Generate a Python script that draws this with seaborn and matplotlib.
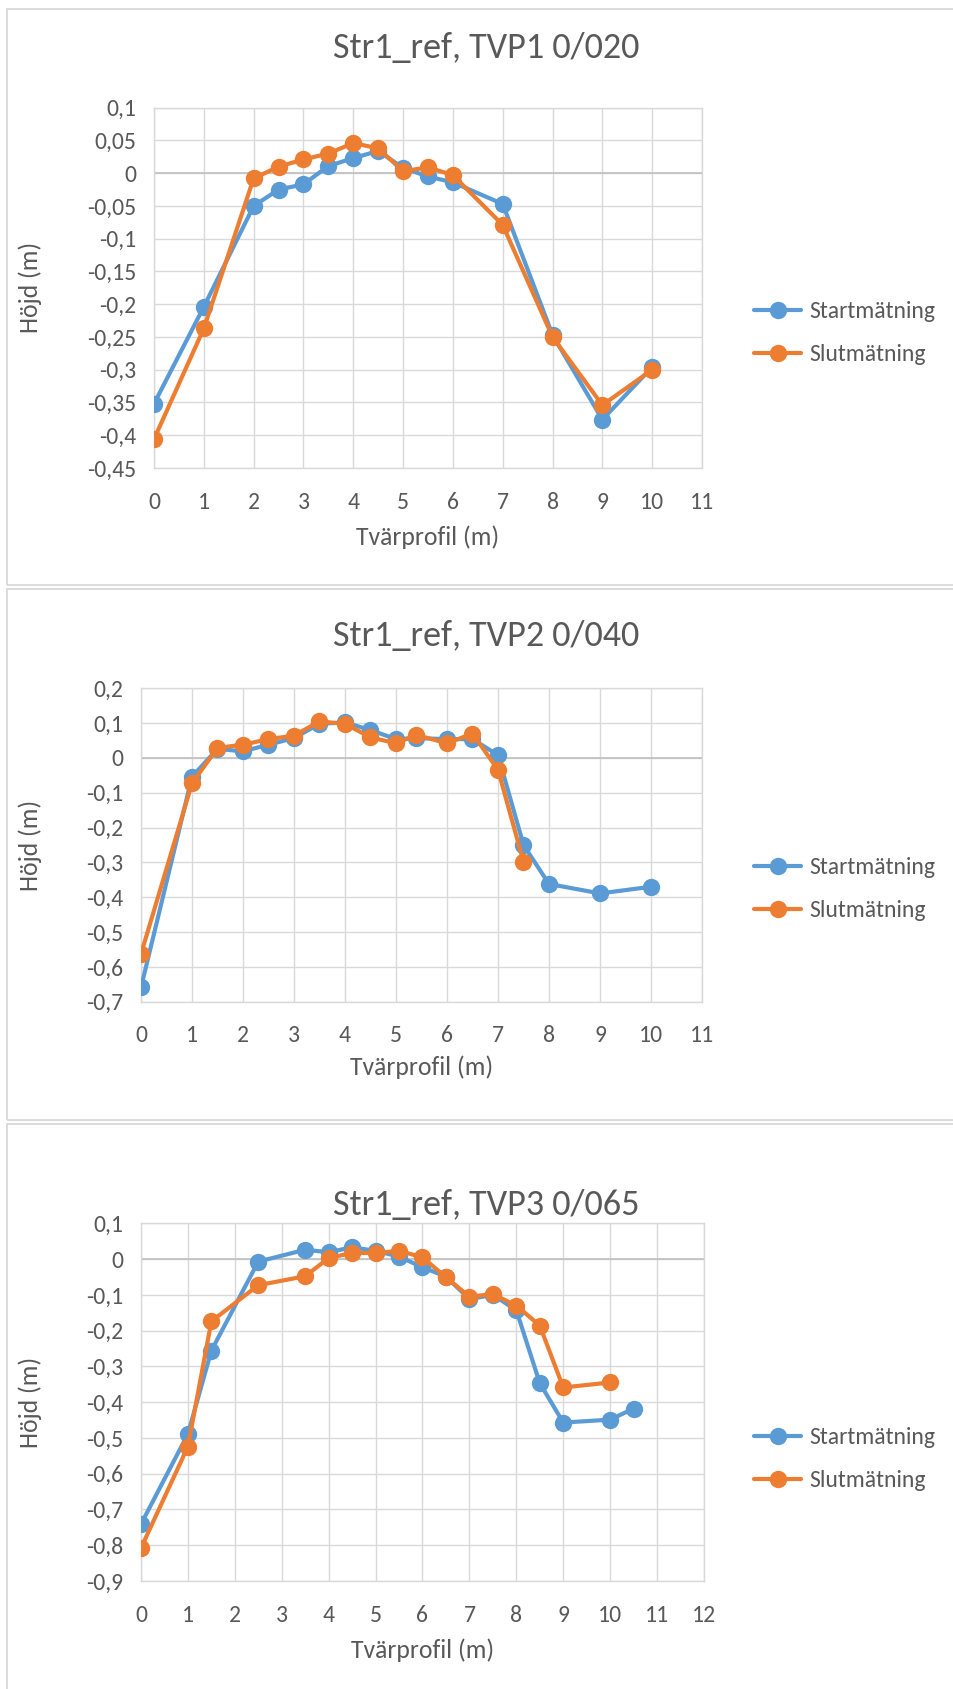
import matplotlib
matplotlib.use("Agg")
import matplotlib.pyplot as plt
from matplotlib import font_manager
from matplotlib.lines import Line2D
from matplotlib.patches import Rectangle
import pandas as pd
import seaborn as sns

# ---- data -------------------------------------------------------------
series_names = ["Startmätning", "Slutmätning"]
series_colors = ["#5B9BD5", "#ED7D31"]

titles = ["Str1_ref, TVP1 0/020", "Str1_ref, TVP2 0/040", "Str1_ref, TVP3 0/065"]
x_label = "Tvärprofil (m)"
y_label = "Höjd (m)"

tvp1_start_x = [0, 1, 2, 2.5, 3, 3.5, 4, 4.5, 5, 5.5, 6, 7, 8, 9, 10]
tvp1_start_y = [-0.352, -0.204, -0.050, -0.025, -0.017, 0.011, 0.023, 0.034,
                0.008, -0.005, -0.014, -0.047, -0.247, -0.376, -0.296]
tvp1_slut_x = [0, 1, 2, 2.5, 3, 3.5, 4, 4.5, 5, 5.5, 6, 7, 8, 9, 10]
tvp1_slut_y = [-0.406, -0.237, -0.008, 0.010, 0.021, 0.030, 0.046, 0.038,
               0.003, 0.009, -0.003, -0.079, -0.250, -0.354, -0.300]

tvp2_start_x = [0, 1, 1.5, 2, 2.5, 3, 3.5, 4, 4.5, 5, 5.4, 6, 6.5, 7, 7.5, 8, 9, 10]
tvp2_start_y = [-0.659, -0.054, 0.026, 0.019, 0.038, 0.057, 0.098, 0.102, 0.080,
                0.054, 0.057, 0.054, 0.054, 0.008, -0.250, -0.362, -0.389, -0.370]
tvp2_slut_x = [0, 1, 1.5, 2, 2.5, 3, 3.5, 4, 4.5, 5, 5.4, 6, 6.5, 7, 7.5]
tvp2_slut_y = [-0.563, -0.073, 0.029, 0.038, 0.054, 0.064, 0.105, 0.098, 0.059,
               0.042, 0.066, 0.042, 0.070, -0.034, -0.298]

tvp3_start_x = [0, 1, 1.5, 2.5, 3.5, 4, 4.5, 5, 5.5, 6, 6.5, 7, 7.5, 8, 8.5, 9, 10, 10.5]
tvp3_start_y = [-0.741, -0.489, -0.256, -0.007, 0.026, 0.019, 0.033, 0.023, 0.007,
                -0.023, -0.049, -0.112, -0.100, -0.143, -0.347, -0.457, -0.449, -0.418]
tvp3_slut_x = [0, 1, 1.5, 2.5, 3.5, 4, 4.5, 5, 5.5, 6, 6.5, 7, 7.5, 8, 8.5, 9, 10]
tvp3_slut_y = [-0.808, -0.524, -0.174, -0.073, -0.048, 0.003, 0.017, 0.017, 0.023,
               0.005, -0.051, -0.105, -0.098, -0.130, -0.186, -0.359, -0.345]

tvp1_xticks = [0, 1, 2, 3, 4, 5, 6, 7, 8, 9, 10, 11]
tvp2_xticks = [0, 1, 2, 3, 4, 5, 6, 7, 8, 9, 10, 11]
tvp3_xticks = [0, 1, 2, 3, 4, 5, 6, 7, 8, 9, 10, 11, 12]

tvp1_yticks = [0.1, 0.05, 0, -0.05, -0.1, -0.15, -0.2, -0.25, -0.3, -0.35, -0.4, -0.45]
tvp1_ylabels = ["0,1", "0,05", "0", "-0,05", "-0,1", "-0,15", "-0,2", "-0,25",
                "-0,3", "-0,35", "-0,4", "-0,45"]
tvp2_yticks = [0.2, 0.1, 0, -0.1, -0.2, -0.3, -0.4, -0.5, -0.6, -0.7]
tvp2_ylabels = ["0,2", "0,1", "0", "-0,1", "-0,2", "-0,3", "-0,4", "-0,5", "-0,6", "-0,7"]
tvp3_yticks = [0.1, 0, -0.1, -0.2, -0.3, -0.4, -0.5, -0.6, -0.7, -0.8, -0.9]
tvp3_ylabels = ["0,1", "0", "-0,1", "-0,2", "-0,3", "-0,4", "-0,5", "-0,6", "-0,7",
                "-0,8", "-0,9"]

# ---- style ------------------------------------------------------------
sns.set_theme(style="white")
available = {f.name for f in font_manager.fontManager.ttflist}
base_font = "DejaVu Sans"
for cand in ["Carlito", "Calibri", "Lato", "Open Sans"]:
    if cand in available:
        base_font = cand
        break
plt.rcParams["font.family"] = [base_font, "DejaVu Sans"]

TEXT = "#595959"
GRID = "#D9D9D9"
ZERO = "#BFBFBF"
FRAME = "#D9D9D9"

TICK_FS = 17
LABEL_FS = 18.5
TITLE_FS = 26
LEGEND_FS = 17
MARKER = 12.5
LINE_W = 3.0

W, H = 954, 1689
fig = plt.figure(figsize=(W / 100, H / 100), dpi=100)
fig.patch.set_facecolor("white")


def fig_rect(left, top, right, bottom):
    return [left / W, 1 - bottom / H, (right - left) / W, (bottom - top) / H]


# chart frames (left, top, right, bottom in pixels)
frames = [(7, 9, 962, 585), (7, 589, 962, 1120), (7, 1124, 962, 1700)]
for l, t, r, b in frames:
    fig.patches.append(Rectangle((l / W, 1 - b / H), (r - l) / W, (b - t) / H,
                                 transform=fig.transFigure, fill=False,
                                 edgecolor=FRAME, linewidth=1.3))

panels = [
    dict(box=(154, 107.7, 702, 468), title_y=48, legend_y=333, xlabel_y=539,
         sx=tvp1_start_x, sy=tvp1_start_y, ex=tvp1_slut_x, ey=tvp1_slut_y,
         xticks=tvp1_xticks, yticks=tvp1_yticks, ylabels=tvp1_ylabels),
    dict(box=(141, 688.3, 702, 1001.7), title_y=636, legend_y=889, xlabel_y=1069,
         sx=tvp2_start_x, sy=tvp2_start_y, ex=tvp2_slut_x, ey=tvp2_slut_y,
         xticks=tvp2_xticks, yticks=tvp2_yticks, ylabels=tvp2_ylabels),
    dict(box=(141, 1223.3, 704, 1581), title_y=1205, legend_y=1459, xlabel_y=1652,
         sx=tvp3_start_x, sy=tvp3_start_y, ex=tvp3_slut_x, ey=tvp3_slut_y,
         xticks=tvp3_xticks, yticks=tvp3_yticks, ylabels=tvp3_ylabels),
]

YLABEL_X = 30  # horizontal centre of the rotated y label, pixels

for title, p in zip(titles, panels):
    left, top, right, bottom = p["box"]
    ax = fig.add_axes(fig_rect(left, top, right, bottom))
    df = pd.concat([
        pd.DataFrame({"x": p["sx"], "y": p["sy"], "serie": series_names[0]}),
        pd.DataFrame({"x": p["ex"], "y": p["ey"], "serie": series_names[1]}),
    ], ignore_index=True)
    ax.axhline(0, color=ZERO, linewidth=1.2, zorder=1.5)
    sns.lineplot(data=df, x="x", y="y", hue="serie", hue_order=series_names,
                 palette=series_colors, sort=False, estimator=None,
                 marker="o", markersize=MARKER, markeredgewidth=0,
                 linewidth=LINE_W, legend=False, ax=ax, zorder=3)

    ax.set_xlim(p["xticks"][0], p["xticks"][-1])
    ax.set_ylim(p["yticks"][-1], p["yticks"][0])
    ax.set_xticks(p["xticks"])
    ax.set_xticklabels([str(v) for v in p["xticks"]])
    ax.set_yticks(p["yticks"])
    ax.set_yticklabels(p["ylabels"])
    ax.grid(True, color=GRID, linewidth=1.0)
    ax.set_axisbelow(True)
    for s in ax.spines.values():
        s.set_visible(True)
        s.set_color(GRID)
        s.set_linewidth(1.0)
    ax.tick_params(axis="both", length=0, labelsize=TICK_FS, colors=TEXT)
    ax.tick_params(axis="y", pad=13)
    ax.tick_params(axis="x", pad=17)

    ax.set_xlabel(x_label, fontsize=LABEL_FS, color=TEXT)
    ax.set_ylabel(y_label, fontsize=LABEL_FS, color=TEXT)
    w_px, h_px = right - left, bottom - top
    ax.xaxis.set_label_coords(0.5, (bottom - (p["xlabel_y"] - 14)) / h_px)
    ax.yaxis.set_label_coords((YLABEL_X + 12 - left) / w_px, 0.5)

    fig.text(486 / W, 1 - p["title_y"] / H, title, ha="center", va="center",
             fontsize=TITLE_FS, color=TEXT)

    handles = [Line2D([0], [0], color=c, linewidth=LINE_W, marker="o",
                      markersize=MARKER, markeredgewidth=0) for c in series_colors]
    ax.legend(handles, series_names, loc="center left",
              bbox_to_anchor=(754 / W, 1 - p["legend_y"] / H),
              bbox_transform=fig.transFigure, frameon=False, fontsize=LEGEND_FS,
              labelcolor=TEXT, handlelength=2.0, handletextpad=0.35,
              labelspacing=0.95, borderaxespad=0, borderpad=0)

fig.savefig("out.png", dpi=100, facecolor="white")
